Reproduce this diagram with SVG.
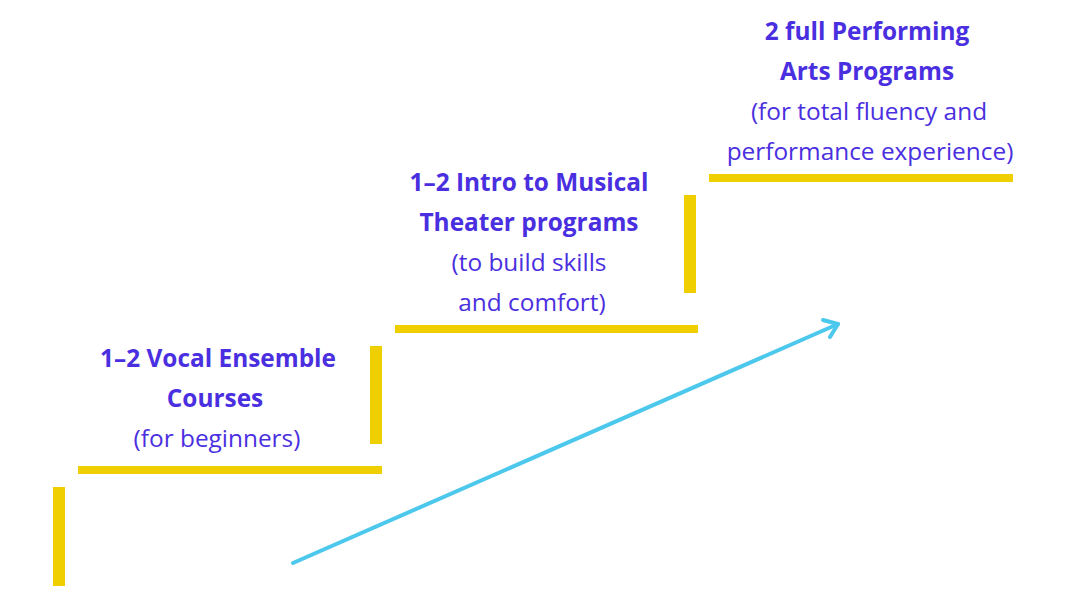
<svg xmlns="http://www.w3.org/2000/svg" width="1080" height="600" viewBox="0 0 1080 600">
<style>
.bar{fill:#f0cf00}
.t{font-family:"Open Sans","Noto Sans",sans-serif;font-size:24.4px;fill:#4a2fe0;text-anchor:middle}
.b{font-weight:700}
.arr{fill:none;stroke:#4cc8ec;stroke-width:4;stroke-linecap:round;stroke-linejoin:round}
</style>
<rect width="1080" height="600" fill="#fff"/>
<g id="steps">
<rect class="bar" x="53" y="487" width="12" height="99"/>
<rect class="bar" x="78" y="466" width="304" height="8"/>
<rect class="bar" x="370" y="346" width="12" height="98"/>
<rect class="bar" x="395" y="325" width="303" height="8"/>
<rect class="bar" x="684" y="195" width="12" height="98"/>
<rect class="bar" x="709" y="174" width="304" height="8"/>
</g>
<g id="connectors">
<line class="arr" x1="293" y1="563" x2="838" y2="324" stroke-linecap="butt"/>
<path class="arr" d="M823,320 L838,324 L830,337"/>
</g>
<g id="step1">
<text class="t b" x="218" y="367">1–2 Vocal Ensemble</text>
<text class="t b" x="215" y="407">Courses</text>
<text class="t" x="217" y="447">(for beginners)</text>
</g>
<g id="step2">
<text class="t b" x="529" y="191">1–2 Intro to Musical</text>
<text class="t b" x="529" y="231">Theater programs</text>
<text class="t" x="529" y="271">(to build skills</text>
<text class="t" x="532" y="311">and comfort)</text>
</g>
<g id="step3">
<text class="t b" x="867" y="40">2 full Performing</text>
<text class="t b" x="867" y="80">Arts Programs</text>
<text class="t" x="869" y="120">(for total fluency and</text>
<text class="t" x="870" y="160">performance experience)</text>
</g>
</svg>
